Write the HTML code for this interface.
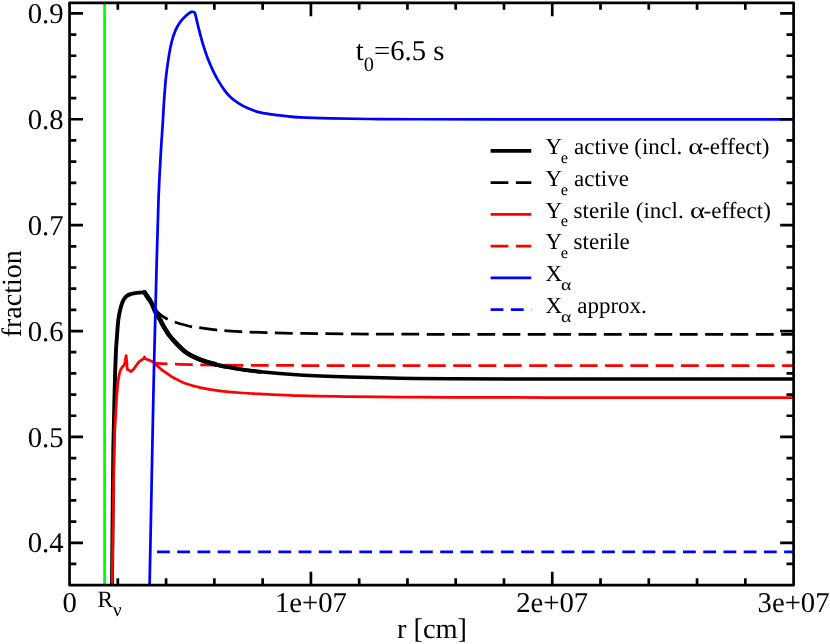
<!DOCTYPE html><html><head><meta charset="utf-8"><style>html,body{margin:0;padding:0;background:#fff}svg{display:block;will-change:transform}text{font-family:"Liberation Serif",serif;fill:#000;text-rendering:geometricPrecision}</style></head><body>
<svg width="830" height="644" viewBox="0 0 830 644">
<rect width="830" height="644" fill="#fff"/>
<defs><clipPath id="c"><rect x="69.55" y="2.8" width="724.0500000000001" height="582.35"/></clipPath></defs>
<g clip-path="url(#c)" fill="none" stroke-linejoin="round">
<path d="M155.9,363.3 L168,364.0 L180,364.4 L200,364.9 L240,365.3 L300,365.5 L793.6,365.5" stroke="#ff0000" stroke-width="2.75" stroke-dasharray="17.8 7.5" stroke-dashoffset="6.2"/>
<path d="M144.50,292.30C145.07,292.88 146.88,294.55 147.90,295.80C148.92,297.05 149.72,298.33 150.60,299.80C151.48,301.27 152.42,303.17 153.20,304.60C153.98,306.03 154.62,307.23 155.30,308.40C155.98,309.57 156.30,310.47 157.25,311.60C158.20,312.73 159.44,314.02 161.00,315.20C162.56,316.38 164.48,317.63 166.60,318.70C168.72,319.77 171.13,320.67 173.70,321.60C176.27,322.53 179.10,323.45 182.00,324.30C184.90,325.15 188.38,326.15 191.10,326.70C193.82,327.25 194.20,327.07 198.30,327.60C202.40,328.13 211.48,329.42 215.70,329.90C219.92,330.38 219.38,330.20 223.60,330.50C227.82,330.80 233.88,331.35 241.00,331.70C248.12,332.05 256.47,332.32 266.30,332.60C276.13,332.88 286.05,333.18 300.00,333.40C313.95,333.62 326.67,333.75 350.00,333.90C373.33,334.05 398.33,334.22 440.00,334.30C481.67,334.38 541.07,334.38 600.00,334.40C658.93,334.42 761.33,334.40 793.60,334.40" stroke="#000" stroke-width="2.75" stroke-dasharray="17.8 7.5" stroke-dashoffset="6.7"/>
<path d="M112.00,585.20C112.10,574.33 112.38,542.53 112.60,520.00C112.82,497.47 113.00,470.00 113.30,450.00C113.60,430.00 114.08,413.33 114.40,400.00C114.72,386.67 114.93,378.33 115.20,370.00C115.47,361.67 115.75,355.07 116.00,350.00C116.25,344.93 116.43,343.32 116.70,339.60C116.97,335.88 117.32,331.10 117.60,327.70C117.88,324.30 118.00,322.05 118.40,319.20C118.80,316.35 119.32,313.45 120.00,310.60C120.68,307.75 121.43,304.52 122.50,302.10C123.57,299.68 124.97,297.45 126.40,296.10C127.83,294.75 129.33,294.53 131.10,294.00C132.87,293.47 134.77,293.18 137.00,292.90C139.23,292.62 143.25,292.40 144.50,292.30" stroke="#000" stroke-width="3.9"/>
<path d="M144.50,292.30C145.02,293.12 146.43,295.42 147.60,297.20C148.77,298.98 150.42,301.07 151.50,303.00C152.58,304.93 153.35,307.13 154.10,308.80C154.85,310.47 154.98,311.17 156.00,313.00C157.02,314.83 159.08,317.83 160.20,319.80C161.32,321.77 161.17,322.18 162.70,324.80C164.23,327.42 167.00,332.27 169.40,335.50C171.80,338.73 174.22,341.30 177.10,344.20C179.98,347.10 182.85,350.33 186.70,352.90C190.55,355.47 195.37,357.67 200.20,359.60C205.03,361.53 209.92,363.05 215.70,364.50C221.48,365.95 227.52,367.08 234.90,368.30C242.28,369.52 249.15,370.68 260.00,371.80C270.85,372.92 285.00,374.13 300.00,375.00C315.00,375.87 333.33,376.47 350.00,377.00C366.67,377.53 383.33,377.92 400.00,378.20C416.67,378.48 425.00,378.57 450.00,378.70C475.00,378.83 516.67,378.93 550.00,379.00C583.33,379.07 609.40,379.08 650.00,379.10C690.60,379.12 769.67,379.10 793.60,379.10" stroke="#000" stroke-width="3.5"/>
<path d="M144.50,292.30C145.02,293.12 146.43,295.42 147.60,297.20C148.77,298.98 150.42,301.07 151.50,303.00C152.58,304.93 153.35,307.13 154.10,308.80C154.85,310.47 154.98,311.17 156.00,313.00C157.02,314.83 159.08,317.83 160.20,319.80C161.32,321.77 161.17,322.18 162.70,324.80C164.23,327.42 167.00,332.27 169.40,335.50C171.80,338.73 174.22,341.30 177.10,344.20C179.98,347.10 182.85,350.33 186.70,352.90C190.55,355.47 195.37,357.67 200.20,359.60C205.03,361.53 209.92,363.05 215.70,364.50C221.48,365.95 227.52,367.08 234.90,368.30C242.28,369.52 255.82,371.22 260.00,371.80" stroke="#000" stroke-width="3.9" stroke-linecap="round"/>
<path d="M144.50,292.30C145.02,293.12 146.43,295.42 147.60,297.20C148.77,298.98 150.42,301.07 151.50,303.00C152.58,304.93 153.35,307.13 154.10,308.80C154.85,310.47 154.98,311.17 156.00,313.00C157.02,314.83 159.08,317.83 160.20,319.80C161.32,321.77 161.17,322.18 162.70,324.80C164.23,327.42 167.00,332.27 169.40,335.50C171.80,338.73 174.22,341.30 177.10,344.20C179.98,347.10 182.85,350.33 186.70,352.90C190.55,355.47 195.37,357.67 200.20,359.60C205.03,361.53 213.12,363.68 215.70,364.50" stroke="#000" stroke-width="4.6" stroke-linecap="round" stroke-linejoin="miter"/>
<path d="M112.20,585.20L112.80,540.00L113.60,480.00L114.80,430.00L116.50,400.00L117.00,392.80L117.60,386.00L118.40,379.20L119.50,373.20L120.80,369.30L122.50,366.80L124.20,365.10L125.10,361.20L126.10,355.70L126.80,362.10L127.20,369.30L128.90,370.20L131.10,371.60L133.60,369.30L136.20,365.50L138.70,362.10L141.70,359.90L143.90,358.50L144.50,357.00L145.10,358.70L148.10,359.70L151.60,361.20L154.50,362.90" stroke="#ff0000" stroke-width="2.75"/>
<path d="M154.50,362.90C155.00,363.40 156.28,364.75 157.50,365.90C158.72,367.05 160.08,368.45 161.80,369.80C163.52,371.15 165.95,372.73 167.80,374.00C169.65,375.27 171.20,376.40 172.90,377.40C174.60,378.40 176.02,379.03 178.00,380.00C179.98,380.97 181.10,381.93 184.80,383.20C188.50,384.47 194.42,386.32 200.20,387.60C205.98,388.88 212.42,390.00 219.50,390.90C226.58,391.80 235.95,392.50 242.70,393.00C249.45,393.50 250.45,393.45 260.00,393.90C269.55,394.35 285.00,395.25 300.00,395.70C315.00,396.15 333.33,396.37 350.00,396.60C366.67,396.83 383.33,396.98 400.00,397.10C416.67,397.22 425.00,397.23 450.00,397.30C475.00,397.37 516.67,397.45 550.00,397.50C583.33,397.55 609.40,397.58 650.00,397.60C690.60,397.62 769.67,397.60 793.60,397.60" stroke="#ff0000" stroke-width="2.75"/>
<path d="M149.60,585.20C149.92,569.33 150.85,522.53 151.50,490.00C152.15,457.47 152.80,421.67 153.50,390.00C154.20,358.33 154.87,331.67 155.70,300.00C156.53,268.33 157.62,225.00 158.50,200.00C159.38,175.00 160.30,162.67 161.00,150.00C161.70,137.33 162.18,132.30 162.70,124.00C163.22,115.70 163.55,108.02 164.10,100.20C164.65,92.38 165.20,84.48 166.00,77.10C166.80,69.72 167.93,61.85 168.90,55.90C169.87,49.95 170.67,45.73 171.80,41.40C172.93,37.07 174.25,33.20 175.70,29.90C177.15,26.60 178.73,24.02 180.50,21.60C182.27,19.18 184.53,17.00 186.30,15.40C188.07,13.80 189.98,12.63 191.10,12.00C192.22,11.37 192.68,11.67 193.00,11.60" stroke="#0000ff" stroke-width="2.75"/>
<path d="M193.00,11.60C193.32,11.85 194.35,11.98 194.90,13.10C195.45,14.22 195.65,15.67 196.30,18.30C196.95,20.93 197.73,24.72 198.80,28.90C199.87,33.08 201.25,38.58 202.70,43.40C204.15,48.22 205.73,53.15 207.50,57.80C209.27,62.45 211.38,67.28 213.30,71.30C215.22,75.32 217.08,78.68 219.00,81.90C220.92,85.12 222.87,88.03 224.80,90.60C226.73,93.17 228.35,95.22 230.60,97.30C232.85,99.38 235.40,101.27 238.30,103.10C241.20,104.93 244.78,106.85 248.00,108.30C251.22,109.75 253.75,110.80 257.60,111.80C261.45,112.80 266.60,113.62 271.10,114.30C275.60,114.98 279.78,115.40 284.60,115.90C289.42,116.40 292.43,116.88 300.00,117.30C307.57,117.72 318.33,118.12 330.00,118.40C341.67,118.68 355.00,118.86 370.00,119.00C385.00,119.14 398.33,119.18 420.00,119.25C441.67,119.32 470.00,119.38 500.00,119.40C530.00,119.43 551.07,119.40 600.00,119.40C648.93,119.40 761.33,119.40 793.60,119.40" stroke="#0000ff" stroke-width="2.75"/>
<path d="M157,551.8 L793.6,551.8" stroke="#0000ff" stroke-width="2.75" stroke-dasharray="12.8 7.43"/>
<path d="M104.6,2.8 L104.6,585.15" stroke="#00ff00" stroke-width="2.75"/>
</g>
<g stroke="#000" stroke-width="2.7" fill="none" stroke-linecap="butt">
<path d="M117.82,585.15 v-7.0 M117.82,2.8 v7.0"/>
<path d="M166.09,585.15 v-7.0 M166.09,2.8 v7.0"/>
<path d="M214.36,585.15 v-7.0 M214.36,2.8 v7.0"/>
<path d="M262.63,585.15 v-7.0 M262.63,2.8 v7.0"/>
<path d="M310.90,585.15 v-13.45 M310.90,2.8 v13.45"/>
<path d="M359.17,585.15 v-7.0 M359.17,2.8 v7.0"/>
<path d="M407.44,585.15 v-7.0 M407.44,2.8 v7.0"/>
<path d="M455.71,585.15 v-7.0 M455.71,2.8 v7.0"/>
<path d="M503.98,585.15 v-7.0 M503.98,2.8 v7.0"/>
<path d="M552.25,585.15 v-13.45 M552.25,2.8 v13.45"/>
<path d="M600.52,585.15 v-7.0 M600.52,2.8 v7.0"/>
<path d="M648.79,585.15 v-7.0 M648.79,2.8 v7.0"/>
<path d="M697.06,585.15 v-7.0 M697.06,2.8 v7.0"/>
<path d="M745.33,585.15 v-7.0 M745.33,2.8 v7.0"/>
<path d="M69.55,563.97 h6.8 M793.6,563.97 h-7.1"/>
<path d="M69.55,542.80 h13.45 M793.6,542.80 h-13.45"/>
<path d="M69.55,521.62 h6.8 M793.6,521.62 h-7.1"/>
<path d="M69.55,500.44 h6.8 M793.6,500.44 h-7.1"/>
<path d="M69.55,479.27 h6.8 M793.6,479.27 h-7.1"/>
<path d="M69.55,458.09 h6.8 M793.6,458.09 h-7.1"/>
<path d="M69.55,436.92 h13.45 M793.6,436.92 h-13.45"/>
<path d="M69.55,415.74 h6.8 M793.6,415.74 h-7.1"/>
<path d="M69.55,394.56 h6.8 M793.6,394.56 h-7.1"/>
<path d="M69.55,373.39 h6.8 M793.6,373.39 h-7.1"/>
<path d="M69.55,352.21 h6.8 M793.6,352.21 h-7.1"/>
<path d="M69.55,331.03 h13.45 M793.6,331.03 h-13.45"/>
<path d="M69.55,309.86 h6.8 M793.6,309.86 h-7.1"/>
<path d="M69.55,288.68 h6.8 M793.6,288.68 h-7.1"/>
<path d="M69.55,267.50 h6.8 M793.6,267.50 h-7.1"/>
<path d="M69.55,246.33 h6.8 M793.6,246.33 h-7.1"/>
<path d="M69.55,225.15 h13.45 M793.6,225.15 h-13.45"/>
<path d="M69.55,203.98 h6.8 M793.6,203.98 h-7.1"/>
<path d="M69.55,182.80 h6.8 M793.6,182.80 h-7.1"/>
<path d="M69.55,161.62 h6.8 M793.6,161.62 h-7.1"/>
<path d="M69.55,140.45 h6.8 M793.6,140.45 h-7.1"/>
<path d="M69.55,119.27 h13.45 M793.6,119.27 h-13.45"/>
<path d="M69.55,98.09 h6.8 M793.6,98.09 h-7.1"/>
<path d="M69.55,76.92 h6.8 M793.6,76.92 h-7.1"/>
<path d="M69.55,55.74 h6.8 M793.6,55.74 h-7.1"/>
<path d="M69.55,34.56 h6.8 M793.6,34.56 h-7.1"/>
<path d="M69.55,13.39 h13.45 M793.6,13.39 h-13.45"/>
<rect x="69.55" y="2.8" width="724.0500000000001" height="582.35" stroke-linejoin="round"/>
</g>
<text x="69.55" y="611.9" font-size="28.7" text-anchor="middle">0</text>
<text x="310.90" y="611.9" font-size="28.7" text-anchor="middle">1e+07</text>
<text x="552.25" y="611.9" font-size="28.7" text-anchor="middle">2e+07</text>
<text x="793.60" y="611.9" font-size="28.7" text-anchor="middle">3e+07</text>
<text x="63.5" y="552.40" font-size="28.7" text-anchor="end">0.4</text>
<text x="63.5" y="446.52" font-size="28.7" text-anchor="end">0.5</text>
<text x="63.5" y="340.63" font-size="28.7" text-anchor="end">0.6</text>
<text x="63.5" y="234.75" font-size="28.7" text-anchor="end">0.7</text>
<text x="63.5" y="128.87" font-size="28.7" text-anchor="end">0.8</text>
<text x="63.5" y="22.99" font-size="28.7" text-anchor="end">0.9</text>
<text x="432.0" y="637.7" font-size="28.4" text-anchor="middle">r [cm]</text>
<text transform="translate(21.2,293.8) rotate(-90)" font-size="28.0" text-anchor="middle">fraction</text>
<text x="97.6" y="606.7" font-size="23.3">R</text>
<text x="113.0" y="615.6" font-size="19">ν</text>
<text x="355.8" y="59.7" font-size="28.7">t<tspan font-size="20.4" dy="11.5">0</tspan><tspan dy="-11.5">=6.5 s</tspan></text>
<path d="M490.6,150.85 H531.3" stroke="#000" stroke-width="3.8" fill="none"/>
<text x="545.60" y="154.05" font-size="23.0">Y</text>
<text x="560.80" y="162.95" font-size="16.4">e</text>
<text x="574.00" y="154.05" font-size="23.0">active</text>
<text x="634.30" y="154.05" font-size="23.0">(incl.</text>
<text transform="translate(688.30,154.05) scale(1.25,1)" font-size="23.0">α</text>
<text x="702.20" y="154.05" font-size="23.0">-effect)</text>
<path d="M490.6,182.60 H531.3" stroke="#000" stroke-width="2.75" stroke-dasharray="17.8 7.5" fill="none"/>
<text x="545.60" y="185.80" font-size="23.0">Y</text>
<text x="560.80" y="194.70" font-size="16.4">e</text>
<text x="574.00" y="185.80" font-size="23.0">active</text>
<path d="M490.6,214.35 H531.3" stroke="#ff0000" stroke-width="2.75" fill="none"/>
<text x="545.60" y="217.55" font-size="23.0">Y</text>
<text x="560.80" y="226.45" font-size="16.4">e</text>
<text x="573.60" y="217.55" font-size="23.0">sterile</text>
<text x="635.80" y="217.55" font-size="23.0">(incl.</text>
<text transform="translate(689.90,217.55) scale(1.25,1)" font-size="23.0">α</text>
<text x="703.60" y="217.55" font-size="23.0">-effect)</text>
<path d="M490.6,246.10 H531.3" stroke="#ff0000" stroke-width="2.75" stroke-dasharray="17.8 7.5" fill="none"/>
<text x="545.60" y="249.30" font-size="23.0">Y</text>
<text x="560.80" y="258.20" font-size="16.4">e</text>
<text x="573.60" y="249.30" font-size="23.0">sterile</text>
<path d="M490.6,277.85 H531.3" stroke="#0000ff" stroke-width="2.75" fill="none"/>
<text x="545.60" y="281.05" font-size="23.0">X</text>
<text transform="translate(561.00,289.95) scale(1.2,1)" font-size="16.4">α</text>
<path d="M490.6,309.60 H531.3" stroke="#0000ff" stroke-width="2.75" stroke-dasharray="12.8 7.43" fill="none"/>
<text x="545.60" y="312.80" font-size="23.0">X</text>
<text transform="translate(561.00,321.70) scale(1.2,1)" font-size="16.4">α</text>
<text x="577.20" y="312.80" font-size="23.0">approx.</text>
</svg></body></html>
